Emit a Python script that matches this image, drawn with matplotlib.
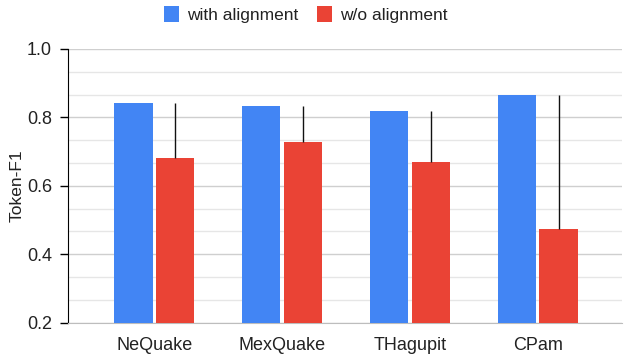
import numpy as np
import matplotlib
matplotlib.use('Agg')
import matplotlib.pyplot as plt
from matplotlib.ticker import MultipleLocator

plt.rcParams['font.family'] = ['Liberation Sans', 'DejaVu Sans']

# data
events = ['NeQuake', 'MexQuake', 'THagupit', 'CPam']
with_align = [0.841, 0.834, 0.820, 0.865]
without_align = [0.682, 0.729, 0.671, 0.475]
yticks = [0.2, 0.4, 0.6, 0.8, 1.0]

blue = '#4285F4'
red = '#EA4335'

fig = plt.figure(figsize=(6.24, 3.56), dpi=100)
ax = fig.add_axes([0.109, 0.0935, 0.888, 0.769])

x = np.arange(len(events))
w = 0.30
off = 0.163
ax.bar(x - off, with_align, w, bottom=0, color=blue, label='with alignment', zorder=3)
ax.bar(x + off, without_align, w, bottom=0, color=red, label='w/o alignment', zorder=3)

# gap to the aligned score drawn as a one-sided error line
gap = np.array(with_align) - np.array(without_align)
ax.errorbar(x + off, without_align, yerr=[np.zeros(len(gap)), gap], fmt='none',
            ecolor='#111111', elinewidth=1, capsize=0, zorder=4)

ax.set_ylim(0.2, 1.0)
ax.set_xlim(-0.675, 3.66)
ax.set_yticks(yticks)
ax.set_yticklabels(['%.1f' % v for v in yticks], fontsize=13, color='#222222')
ax.yaxis.set_minor_locator(MultipleLocator(0.2 / 3))
ax.grid(axis='y', which='major', color='#cfcfcf', lw=1, zorder=0)
ax.grid(axis='y', which='minor', color='#e6e6e6', lw=1, zorder=0)
ax.tick_params(axis='y', which='major', length=6, width=1, color='black', pad=5.5)
ax.tick_params(axis='y', which='minor', length=0)
ax.set_xticks(x)
ax.set_xticklabels(events, fontsize=13, color='#222222')
ax.tick_params(axis='x', length=0, pad=10)

for s in ['top', 'right']:
    ax.spines[s].set_visible(False)
ax.spines['left'].set_color('black')
ax.spines['bottom'].set_color('#bdbdbd')

ax.set_ylabel('Token-F1', fontsize=12.5, color='#222222', labelpad=2)

fig.legend(loc='center', bbox_to_anchor=(0.49, 0.959), ncol=2, frameon=False,
           fontsize=12.5, handlelength=0.85, handleheight=1.0, handletextpad=0.5,
           columnspacing=1.05, labelcolor='#222222')

fig.savefig('out.png', dpi=100)
